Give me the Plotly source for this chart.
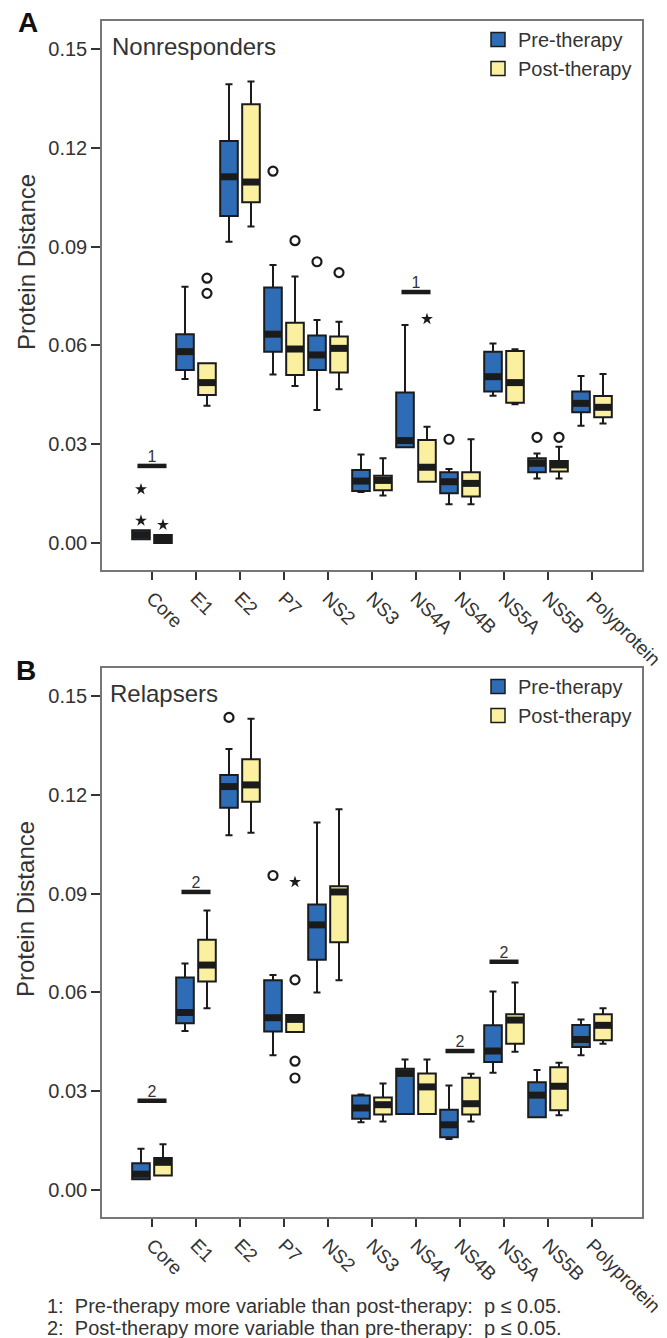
import plotly.graph_objects as go

# ---------------------------------------------------------------- data
proteins = ["Core", "E1", "E2", "P7", "NS2", "NS3", "NS4A", "NS4B",
            "NS5A", "NS5B", "Polyprotein"]

# Panel A: nonresponders, five-number summaries per protein
a_pre_lo = [0.0011, 0.0498, 0.0915, 0.0512, 0.0404, 0.0155, 0.0291, 0.0118, 0.0447, 0.0196, 0.0356]
a_pre_q1 = [0.0011, 0.0525, 0.0993, 0.0581, 0.0525, 0.0158, 0.0291, 0.0151, 0.0460, 0.0215, 0.0397]
a_pre_med = [0.0025, 0.0581, 0.1112, 0.0634, 0.0571, 0.0188, 0.0311, 0.0186, 0.0505, 0.0242, 0.0424]
a_pre_q3 = [0.0039, 0.0634, 0.1221, 0.0776, 0.0630, 0.0222, 0.0457, 0.0215, 0.0581, 0.0257, 0.0460]
a_pre_hi = [0.0039, 0.0778, 0.1393, 0.0844, 0.0677, 0.0269, 0.0662, 0.0225, 0.0606, 0.0272, 0.0507]

a_post_lo = [0.0000, 0.0417, 0.0961, 0.0477, 0.0467, 0.0144, 0.0186, 0.0118, 0.0421, 0.0196, 0.0363]
a_post_q1 = [0.0000, 0.0449, 0.1035, 0.0510, 0.0518, 0.0160, 0.0186, 0.0141, 0.0426, 0.0217, 0.0382]
a_post_med = [0.0012, 0.0487, 0.1096, 0.0589, 0.0591, 0.0190, 0.0230, 0.0181, 0.0487, 0.0237, 0.0412]
a_post_q3 = [0.0024, 0.0546, 0.1332, 0.0669, 0.0627, 0.0204, 0.0313, 0.0215, 0.0583, 0.0249, 0.0446]
a_post_hi = [0.0024, 0.0546, 0.1401, 0.0809, 0.0672, 0.0257, 0.0353, 0.0315, 0.0588, 0.0292, 0.0513]

a_out_protein = ["Core", "Core", "Core", "E1", "E1", "P7", "P7", "NS2", "NS2", "NS4A", "NS4B", "NS5B", "NS5B"]
a_out_group = ["pre", "pre", "post", "post", "post", "pre", "post", "pre", "post", "post", "pre", "pre", "post"]
a_out_value = [0.0163, 0.0068, 0.0055, 0.0804, 0.0758, 0.1129, 0.0918, 0.0854, 0.0821, 0.0680, 0.0315, 0.0321, 0.0321]
a_out_kind = ["extreme", "extreme", "extreme", "outlier", "outlier", "outlier", "outlier", "outlier",
              "outlier", "extreme", "outlier", "outlier", "outlier"]

a_sig_protein = ["Core", "NS4A"]
a_sig_level = [0.0234, 0.0762]
a_sig_label = ["1", "1"]

# Panel B: relapsers
b_pre_lo = [0.0033, 0.0483, 0.1077, 0.0409, 0.0600, 0.0206, 0.0231, 0.0155, 0.0356, 0.0221, 0.0409]
b_pre_q1 = [0.0033, 0.0506, 0.1161, 0.0481, 0.0699, 0.0216, 0.0231, 0.0160, 0.0389, 0.0221, 0.0434]
b_pre_med = [0.0048, 0.0539, 0.1225, 0.0523, 0.0805, 0.0249, 0.0354, 0.0198, 0.0422, 0.0288, 0.0457]
b_pre_q3 = [0.0081, 0.0645, 0.1260, 0.0637, 0.0867, 0.0287, 0.0368, 0.0244, 0.0500, 0.0327, 0.0501]
b_pre_hi = [0.0125, 0.0688, 0.1339, 0.0653, 0.1116, 0.0290, 0.0396, 0.0317, 0.0603, 0.0364, 0.0518]

b_post_lo = [0.0044, 0.0552, 0.1085, 0.0480, 0.0637, 0.0208, 0.0231, 0.0208, 0.0420, 0.0227, 0.0444]
b_post_q1 = [0.0044, 0.0633, 0.1179, 0.0480, 0.0752, 0.0229, 0.0231, 0.0229, 0.0444, 0.0242, 0.0455]
b_post_med = [0.0084, 0.0683, 0.1230, 0.0518, 0.0905, 0.0259, 0.0313, 0.0262, 0.0516, 0.0315, 0.0500]
b_post_q3 = [0.0097, 0.0760, 0.1308, 0.0531, 0.0922, 0.0281, 0.0354, 0.0341, 0.0534, 0.0373, 0.0534]
b_post_hi = [0.0139, 0.0849, 0.1431, 0.0531, 0.1156, 0.0323, 0.0396, 0.0353, 0.0630, 0.0386, 0.0552]

b_out_protein = ["E2", "P7", "P7", "P7", "P7", "P7"]
b_out_group = ["pre", "pre", "post", "post", "post", "post"]
b_out_value = [0.1435, 0.0955, 0.0935, 0.0638, 0.0391, 0.0340]
b_out_kind = ["outlier", "outlier", "extreme", "outlier", "outlier", "outlier"]

b_sig_protein = ["Core", "E1", "NS4B", "NS5A"]
b_sig_level = [0.0271, 0.0905, 0.0422, 0.0693]
b_sig_label = ["2", "2", "2", "2"]

y_ticks = [0.00, 0.03, 0.06, 0.09, 0.12, 0.15]

# ---------------------------------------------------------------- style
BLUE = "#2E6DB6"
YELLOW = "#FAF0A0"
INK = "#1b1b1b"
TEXT = "#333333"
FRAME = "#777777"
FONT = "Liberation Sans, Arial, Helvetica, sans-serif"

W, H = 667, 1338
ML, MR, MT, MB = 102, 25, 21, 121
PW, PH = W - ML - MR, H - MT - MB

GROUP_SHIFT = {"pre": -0.25, "post": 0.25}
BOX_W = 0.40
SIG_HALF = 0.33


def px_x(px):
    return (px - ML) / PW


def px_y(py):
    return (H - MB - py) / PH


fig = go.Figure()


def add_panel(xa, ya, pre, post, out, sig):
    idx = {p: i for i, p in enumerate(proteins)}
    for grp, stats, fill in (("pre", pre, BLUE), ("post", post, YELLOW)):
        lo, q1, med, q3, hi = stats
        xs = [i + GROUP_SHIFT[grp] for i in range(len(proteins))]
        fig.add_trace(go.Box(
            x=xs, q1=q1, median=med, q3=q3, lowerfence=lo, upperfence=hi,
            width=BOX_W, whiskerwidth=0.4, boxpoints=False,
            fillcolor=fill, line=dict(color=INK, width=2),
            showlegend=False, hoverinfo="skip", xaxis=xa, yaxis=ya))
        # thick median band (line-ew length is 1.4 x marker size)
        fig.add_trace(go.Scatter(
            x=xs, y=med, mode="markers",
            marker=dict(symbol="line-ew", size=12.2,
                        line=dict(color=INK, width=7)),
            showlegend=False, hoverinfo="skip", xaxis=xa, yaxis=ya))

    o_prot, o_grp, o_val, o_kind = out
    for kind, sym, size, lw in (("outlier", "circle-open", 9, 2.2),
                                ("extreme", "star", 9, 0)):
        xs = [idx[p] + GROUP_SHIFT[g] for p, g, k in zip(o_prot, o_grp, o_kind) if k == kind]
        ys = [v for v, k in zip(o_val, o_kind) if k == kind]
        if not xs:
            continue
        fig.add_trace(go.Scatter(
            x=xs, y=ys, mode="markers",
            marker=dict(symbol=sym, size=size, color=INK,
                        line=dict(color=INK, width=lw)),
            showlegend=False, hoverinfo="skip", xaxis=xa, yaxis=ya))

    s_prot, s_lvl, s_lab = sig
    lx, ly = [], []
    for p, v in zip(s_prot, s_lvl):
        lx += [idx[p] - SIG_HALF, idx[p] + SIG_HALF, None]
        ly += [v, v, None]
    fig.add_trace(go.Scatter(
        x=lx, y=ly, mode="lines", line=dict(color=INK, width=4.5),
        showlegend=False, hoverinfo="skip", xaxis=xa, yaxis=ya))
    fig.add_trace(go.Scatter(
        x=[idx[p] for p in s_prot], y=s_lvl, text=s_lab, mode="text",
        textposition="top center", textfont=dict(size=16, color=TEXT),
        showlegend=False, hoverinfo="skip", xaxis=xa, yaxis=ya))


add_panel("x", "y",
          (a_pre_lo, a_pre_q1, a_pre_med, a_pre_q3, a_pre_hi),
          (a_post_lo, a_post_q1, a_post_med, a_post_q3, a_post_hi),
          (a_out_protein, a_out_group, a_out_value, a_out_kind),
          (a_sig_protein, a_sig_level, a_sig_label))
add_panel("x2", "y2",
          (b_pre_lo, b_pre_q1, b_pre_med, b_pre_q3, b_pre_hi),
          (b_post_lo, b_post_q1, b_post_med, b_post_q3, b_post_hi),
          (b_out_protein, b_out_group, b_out_value, b_out_kind),
          (b_sig_protein, b_sig_level, b_sig_label))

# legend entries, one legend per panel
for leg in ("legend", "legend2"):
    for name, fill in (("Pre-therapy", BLUE), ("Post-therapy", YELLOW)):
        fig.add_trace(go.Scatter(
            x=[None], y=[None], mode="markers", name=name,
            marker=dict(symbol="square", size=14, color=fill,
                        line=dict(color=INK, width=1.5)),
            legend=leg, legendgroup=leg + name, showlegend=True,
            xaxis="x" if leg == "legend" else "x2",
            yaxis="y" if leg == "legend" else "y2"))

xaxis_style = dict(
    range=[-1.136, 11.136], tickmode="array",
    tickvals=list(range(len(proteins))), ticktext=proteins,
    tickangle=45, ticks="outside", ticklen=8, tickwidth=2, tickcolor="#333",
    showline=True, mirror=True, linecolor=FRAME, linewidth=1.5,
    showgrid=False, zeroline=False,
    tickfont=dict(size=19, color=TEXT, family=FONT))
yaxis_style = dict(
    range=[-0.0082, 0.1585], tickmode="array", tickvals=y_ticks,
    tickformat=".2f", ticks="outside", ticklen=9, tickwidth=2, tickcolor="#333",
    showline=True, mirror=True, linecolor=FRAME, linewidth=1.5,
    showgrid=False, zeroline=False,
    tickfont=dict(size=20, color=TEXT, family=FONT))

dom_a = [px_y(570), 1.0]
dom_b = [0.0, px_y(668)]

legend_style = dict(xanchor="left", yanchor="top", bgcolor="rgba(0,0,0,0)",
                    font=dict(size=20, color=TEXT, family=FONT),
                    tracegroupgap=0, itemsizing="trace")

annotations = []


def label(text, px, py, size, bold=False, xanchor="left", angle=0):
    annotations.append(dict(
        text=f"<b>{text}</b>" if bold else text,
        x=px_x(px), y=px_y(py), xref="paper", yref="paper",
        xanchor=xanchor, yanchor="middle", showarrow=False, textangle=angle,
        font=dict(size=size, color=TEXT if not bold else "#111", family=FONT)))


label("A", 16, 22, 28, bold=True)
label("B", 14, 670, 28, bold=True)
label("Nonresponders", 110, 46, 24)
label("Relapsers", 108, 693, 24)
label("Protein Distance", 26, 262, 24, xanchor="center", angle=-90)
label("Protein Distance", 26, 909, 24, xanchor="center", angle=-90)
label("1:\u00a0 Pre-therapy more variable than post-therapy:\u00a0 p \u2264 0.05.", 45, 1306, 20)
label("2:\u00a0 Post-therapy more variable than pre-therapy:\u00a0 p \u2264 0.05.", 45, 1328, 20)

fig.update_layout(
    width=W, height=H,
    margin=dict(l=ML, r=MR, t=MT, b=MB, autoexpand=False),
    paper_bgcolor="white", plot_bgcolor="white",
    font=dict(family=FONT, color=TEXT),
    showlegend=True,
    xaxis=dict(xaxis_style, anchor="y", domain=[0, 1]),
    yaxis=dict(yaxis_style, anchor="x", domain=dom_a),
    xaxis2=dict(xaxis_style, anchor="y2", domain=[0, 1]),
    yaxis2=dict(yaxis_style, anchor="x2", domain=dom_b),
    legend=dict(legend_style, x=px_x(478), y=px_y(20)),
    legend2=dict(legend_style, x=px_x(478), y=px_y(667)),
    annotations=annotations,
)

fig.write_html("out.html")
